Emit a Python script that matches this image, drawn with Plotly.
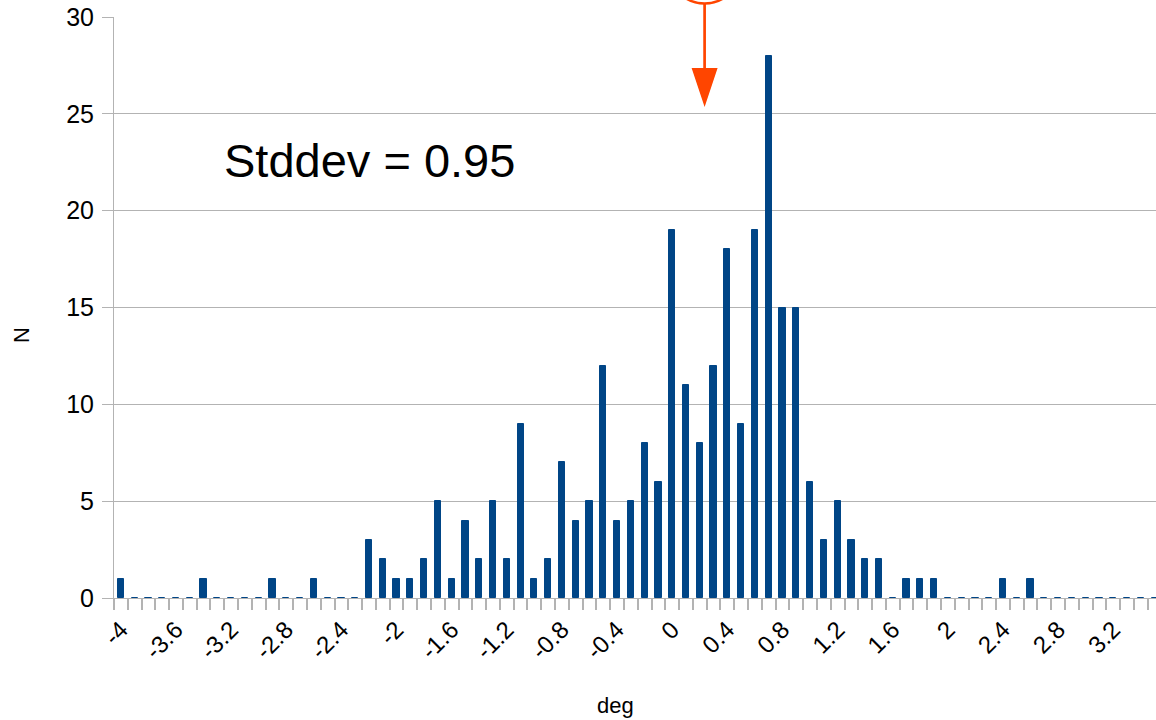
import plotly.graph_objects as go

# ---- data ----
bin_centers = [round(-4.0 + 0.1 * i, 1) for i in range(76)]
counts = [
    1, 0, 0, 0, 0, 0, 1, 0, 0, 0,      # -4.0 .. -3.1
    0, 1, 0, 0, 1, 0, 0, 0, 3, 2,      # -3.0 .. -2.1
    1, 1, 2, 5, 1, 4, 2, 5, 2, 9,      # -2.0 .. -1.1
    1, 2, 7, 4, 5, 12, 4, 5, 8, 6,     # -1.0 .. -0.1
    19, 11, 8, 12, 18, 9, 19, 28, 15, 15,  # 0.0 .. 0.9
    6, 3, 5, 3, 2, 2, 0, 1, 1, 1,      # 1.0 .. 1.9
    0, 0, 0, 0, 1, 0, 1, 0, 0, 0,      # 2.0 .. 2.9
    0, 0, 0, 0, 0, 0,                  # 3.0 .. 3.5
]
x_tick_vals = [round(-4.0 + 0.4 * i, 1) for i in range(19)]
x_tick_text = ["-4", "-3.6", "-3.2", "-2.8", "-2.4", "-2", "-1.6", "-1.2", "-0.8", "-0.4",
               "0", "0.4", "0.8", "1.2", "1.6", "2", "2.4", "2.8", "3.2"]
y_tick_vals = [0, 5, 10, 15, 20, 25, 30]
stddev_label = "Stddev = 0.95"
arrow_x = 0.235

BAR = "#004586"
GRID = "#b3b3b3"
RED = "#ff4500"
FONT = "Liberation Sans, Arial, sans-serif"

fig = go.Figure()
fig.add_trace(go.Bar(
    x=bin_centers, y=counts, width=0.045,
    marker=dict(color=BAR, line=dict(color=BAR, width=1)),
    showlegend=False,
))

# figure geometry helpers (pixels -> paper)
plot_top, plot_bottom = 17, 598
ph = plot_bottom - plot_top
def py(ypx):
    return (plot_bottom - ypx) / ph
px_per_unit = 13.78 / 0.1

# arrow with circle on top
head_top = py(68)
tip = py(107)
half_w = 13 / px_per_unit
circ_r = 36
circ_cy = py(3.5 - circ_r)
fig.add_shape(type="line", xref="x", yref="paper",
              x0=arrow_x, x1=arrow_x, y0=head_top, y1=circ_cy - circ_r / ph,
              line=dict(color=RED, width=2.7), layer="above")
fig.add_shape(type="path", xref="x", yref="paper",
              path=f"M {arrow_x - half_w} {head_top} L {arrow_x + half_w} {head_top} L {arrow_x} {tip} Z",
              fillcolor=RED, line=dict(color=RED, width=0), layer="above")
fig.add_shape(type="circle", xref="x", yref="paper",
              x0=arrow_x - circ_r / px_per_unit, x1=arrow_x + circ_r / px_per_unit,
              y0=circ_cy - circ_r / ph, y1=circ_cy + circ_r / ph,
              line=dict(color=RED, width=2.5), fillcolor="rgba(0,0,0,0)", layer="above")

fig.add_annotation(text=stddev_label, xref="paper", yref="paper",
                   x=(369 - 114) / 1042, y=py(160), showarrow=False,
                   font=dict(size=47, color="black", family=FONT),
                   xanchor="center", yanchor="middle")
fig.add_annotation(text="N", xref="paper", yref="paper",
                   x=(21 - 114) / 1042, y=py(335), showarrow=False, textangle=-90,
                   font=dict(size=22, color="black", family=FONT),
                   xanchor="center", yanchor="middle")
fig.add_annotation(text="deg", xref="paper", yref="paper",
                   x=(615 - 114) / 1042, y=py(705), showarrow=False,
                   font=dict(size=22, color="black", family=FONT),
                   xanchor="center", yanchor="middle")

fig.update_layout(
    width=1156, height=720,
    margin=dict(l=114, r=0, t=17, b=122),
    paper_bgcolor="white", plot_bgcolor="white",
    font=dict(family=FONT, color="black"),
    bargap=0,
    xaxis=dict(
        range=[-4.05, 3.51],
        tickmode="array", tickvals=x_tick_vals, ticktext=x_tick_text,
        tickangle=-45, ticks="", ticklen=0, ticklabelstandoff=7,
        tickfont=dict(size=24, color="black"),
        showgrid=False, zeroline=False,
        showline=True, linecolor=GRID, linewidth=1,
        minor=dict(tick0=-4.05, dtick=0.1, ticks="outside", ticklen=11,
                   tickcolor=GRID, tickwidth=2, showgrid=False),
    ),
    yaxis=dict(
        range=[0, 30], tickmode="array", tickvals=y_tick_vals,
        ticks="outside", ticklen=11, tickcolor=GRID, tickwidth=1,
        ticklabelstandoff=3,
        tickfont=dict(size=25, color="black"),
        showgrid=True, gridcolor=GRID, gridwidth=1,
        zeroline=False, showline=True, linecolor=GRID, linewidth=1,
    ),
)

fig.write_html("out.html", config={"displayModeBar": False},
               post_script="document.body.style.margin='0';document.body.style.padding='0';")
